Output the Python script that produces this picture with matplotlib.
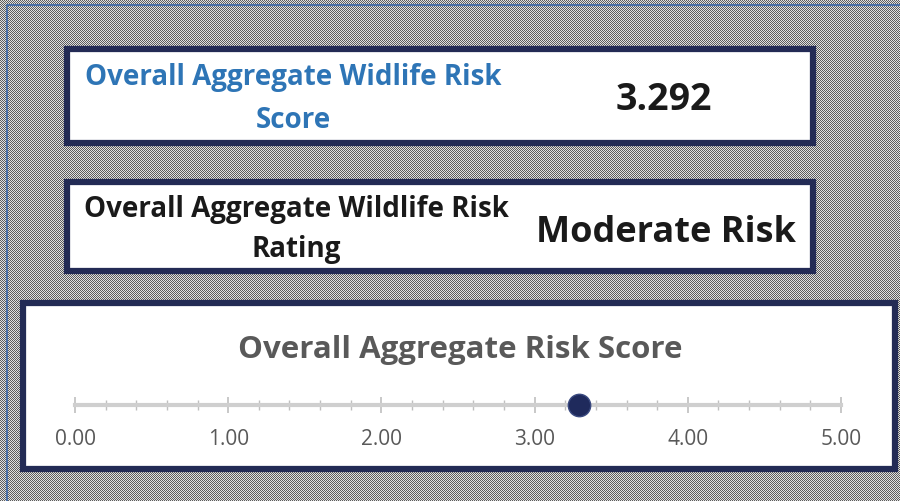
import numpy as np
import matplotlib
matplotlib.use("Agg")
import matplotlib.pyplot as plt
from matplotlib.patches import Rectangle
from matplotlib.ticker import FixedLocator, FormatStrFormatter

# values shown on the dashboard
score_label = "Overall Aggregate Widlife Risk\nScore"
score_value = 3.292
rating_label = "Overall Aggregate Wildlife Risk\nRating"
rating_value = "Moderate Risk"
scale_title = "Overall Aggregate Risk Score"
scale_min = 0.0
scale_max = 5.0
major_ticks = [0, 1, 2, 3, 4, 5]
minor_ticks = [0.2 * i for i in range(26)]

W, H = 900, 501
plt.rcParams['font.family'] = ['Open Sans', 'DejaVu Sans']

fig = plt.figure(figsize=(W / 100, H / 100), dpi=100)

# checkered grey background
yy, xx = np.mgrid[0:H, 0:W]
checker = np.where((xx + yy) % 2 == 0, 0.36, 0.88)
fig.figimage(checker, cmap='gray', vmin=0, vmax=1, origin='upper', zorder=0)

def fx(px):
    return px / W

def fy(py):
    return 1 - py / H

def box(x0, y0, x1, y1, lw=4.5):
    r = Rectangle((fx(x0), fy(y1)), fx(x1) - fx(x0), fy(y0) - fy(y1),
                  transform=fig.transFigure, facecolor='white',
                  edgecolor='#232b55', linewidth=lw, zorder=2)
    fig.patches.append(r)

# thin blue frame line at left/top
fig.add_artist(plt.Line2D([fx(7), fx(7), fx(900)], [fy(501), fy(5), fy(5)],
                          transform=fig.transFigure, color='#4a6fa5', lw=1.5, zorder=1))

box(67, 49, 813, 143)
box(67, 182, 813, 271)
box(23, 303, 895, 469)

# score box
fig.text(fx(293), fy(99), score_label, ha='center', va='center', fontsize=20,
         fontweight='bold', color='#2e75b6', linespacing=1.6, zorder=3)
fig.text(fx(664), fy(100), f"{score_value:.3f}", ha='center', va='center', fontsize=27,
         fontweight='bold', color='#1a1a1a', zorder=3)

# rating box
fig.text(fx(296), fy(230), rating_label, ha='center', va='center', fontsize=20,
         fontweight='bold', color='#1a1a1a', linespacing=1.5, zorder=3)
fig.text(fx(666), fy(233), rating_value, ha='center', va='center', fontsize=26,
         fontweight='bold', color='#1a1a1a', zorder=3)

# scale box title
fig.text(fx(460), fy(350), scale_title, ha='center', va='center', fontsize=22.5,
         fontweight='bold', color='#595959', zorder=3)

# the score scale
ax = fig.add_axes([fx(75), fy(425), fx(841) - fx(75), fy(385) - fy(425)])
ax.set_zorder(4)
ax.patch.set_alpha(0)
ax.set_xlim(scale_min, scale_max)
ax.set_ylim(-1, 1)
for s in ['top', 'left', 'right']:
    ax.spines[s].set_visible(False)
ax.spines['bottom'].set_position(('data', 0))
ax.spines['bottom'].set_color('#cfcfcf')
ax.spines['bottom'].set_linewidth(3)
ax.set_yticks([])
ax.xaxis.set_major_locator(FixedLocator(major_ticks))
ax.xaxis.set_minor_locator(FixedLocator(minor_ticks))
ax.xaxis.set_major_formatter(FormatStrFormatter('%.2f'))
ax.tick_params(axis='x', which='major', direction='inout', length=11, width=1.2,
               color='#bfbfbf', labelsize=15, labelcolor='#595959', pad=12)
ax.tick_params(axis='x', which='minor', direction='inout', length=7, width=1,
               color='#bfbfbf')
ax.scatter([score_value], [0], s=260, color='#1f2a5c', edgecolor='#3a4a80',
           linewidth=1, zorder=5, clip_on=False)

fig.savefig('out.png', dpi=100)
